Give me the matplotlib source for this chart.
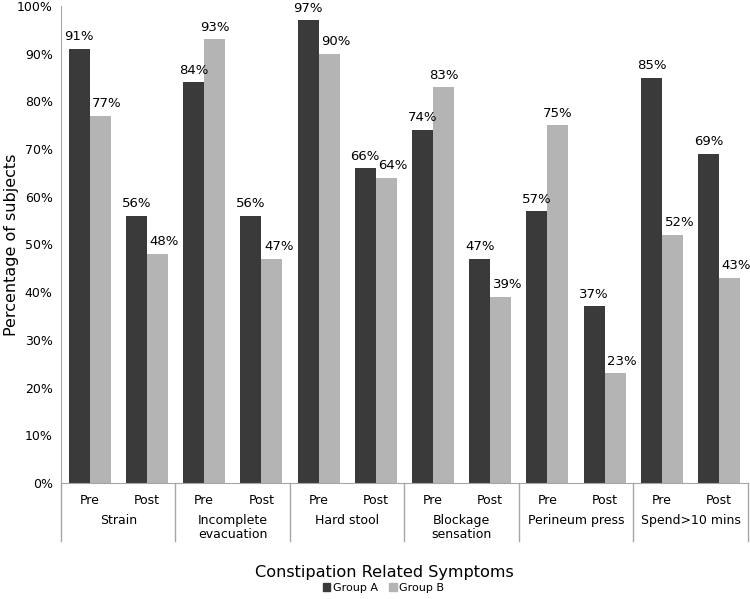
import numpy as np
import matplotlib.pyplot as plt
from matplotlib.lines import Line2D
from matplotlib.patches import Patch

# data
sintomas = ["Strain", "Incomplete\nevacuation", "Hard stool", "Blockage\nsensation",
            "Perineum press", "Spend>10 mins"]
fases = ["Pre", "Post"]
grupo_a = [91, 56, 84, 56, 97, 66, 74, 47, 57, 37, 85, 69]
grupo_b = [77, 48, 93, 47, 90, 64, 83, 39, 75, 23, 52, 43]

cor_a = "#3a3a3a"
cor_b = "#b4b4b4"
cor_eixo = "#a6a6a6"

plt.rcParams['font.family'] = 'DejaVu Sans'

fig = plt.figure(figsize=(7.5, 5.99), dpi=100)
ax = fig.add_axes([0.0813, 0.1937, 0.9157, 0.7963])

n = len(grupo_a)
x = np.arange(n)
w = 0.367

ax.bar(x - w / 2, grupo_a, width=w, color=cor_a, label="Group A")
ax.bar(x + w / 2, grupo_b, width=w, color=cor_b, label="Group B")

for xi, va_, vb_ in zip(x, grupo_a, grupo_b):
    ax.annotate(f"{va_}%", (xi - w / 2, va_), xytext=(0, 4), textcoords="offset points",
                ha="center", va="bottom", fontsize=9.5)
    # no original o rotulo do grupo B desloca-se para a direita quando fica abaixo do A
    dx = 5 if vb_ < va_ else 0
    ax.annotate(f"{vb_}%", (xi + w / 2, vb_), xytext=(dx, 4), textcoords="offset points",
                ha="center", va="bottom", fontsize=9.5)

ax.set_xlim(-0.5, n - 0.5)
ax.set_ylim(0, 100)
ax.set_yticks(np.arange(0, 101, 10))
ax.set_yticklabels([f"{v}%" for v in range(0, 101, 10)], fontsize=9)
ax.set_xticks(x)
ax.set_xticklabels(fases * len(sintomas), fontsize=9)
ax.tick_params(axis="both", length=0)
ax.tick_params(axis="x", pad=8)
ax.tick_params(axis="y", pad=6)

for s in ["top", "right"]:
    ax.spines[s].set_visible(False)
for s in ["left", "bottom"]:
    ax.spines[s].set_color(cor_eixo)

ax.set_ylabel("Percentage of subjects", fontsize=11.5)
ax.yaxis.set_label_coords(-0.061, 0.5)

# rotulos dos grupos e separadores
trans = ax.get_xaxis_transform()
for i, nome in enumerate(sintomas):
    ax.text(2 * i + 0.5, -0.065, nome, transform=trans, ha="center", va="top",
            fontsize=9, linespacing=1.1)
for k in range(len(sintomas) + 1):
    ax.add_line(Line2D([2 * k - 0.5, 2 * k - 0.5], [0, -0.122], transform=trans,
                       color=cor_eixo, lw=1, clip_on=False))

fig.text(0.512, 0.045, "Constipation Related Symptoms", ha="center", va="center", fontsize=11.6)

handles = [Patch(color=cor_a, label="Group A"), Patch(color=cor_b, label="Group B")]
fig.legend(handles=handles, loc="center", bbox_to_anchor=(0.511, 0.018), ncol=2,
           frameon=False, fontsize=8, handlelength=0.7, handleheight=0.7,
           handletextpad=0.2, columnspacing=1.0, borderpad=0)

fig.savefig("out.png", dpi=100)
